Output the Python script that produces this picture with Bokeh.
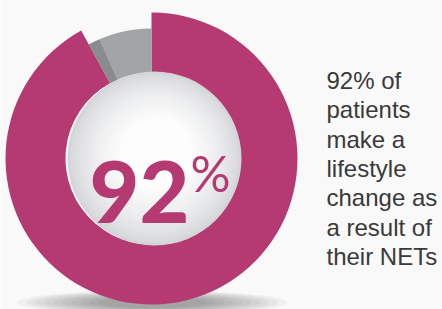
import numpy as np
from bokeh.plotting import figure
from bokeh.models import Range1d
from bokeh.core.properties import value
from bokeh.embed import file_html
from bokeh.resources import INLINE

# ---- data ----
categories = ["Lifestyle change", "No change"]
values = [92, 8]
big_label = "92"
pct_sign = "%"
side_lines = ["92% of", "patients", "make a", "lifestyle", "change as", "a result of", "their NETs"]

MAGENTA = "#B53A72"
GRAY = "#A3A4A8"
GRAY_DARK = "#8A8B8F"

W, H = 442, 309
p = figure(width=W, height=H, output_backend="svg", toolbar_location=None,
           x_range=Range1d(0, W), y_range=Range1d(0, H), match_aspect=False)
p.axis.visible = False
p.grid.visible = False
p.outline_line_color = None
p.min_border = 0
p.background_fill_color = "#f9f9f9"
p.border_fill_color = "#f9f9f9"

def sx(x):
    return x

def sy(y):
    return H - y

cx, cy = sx(151), sy(158)
R_out, R_gray, R_in = 146, 130, 86

# shadow under donut
for k in range(10):
    p.ellipse(x=sx(152), y=sy(302), width=270 - k * 18, height=24 - k * 1.4,
              fill_color="black", fill_alpha=0.04, line_color=None)

# wedge angles from data
fr = np.array(values, dtype=float) / sum(values)
start = np.pi / 2
gray_start = start
gray_end = start + 2 * np.pi * fr[1]
mag_start = gray_end
mag_end = start + 2 * np.pi

p.annular_wedge(x=cx, y=cy, inner_radius=R_in, outer_radius=R_out,
                start_angle=mag_start, end_angle=mag_end,
                fill_color=MAGENTA, line_color=None)
p.annular_wedge(x=cx, y=cy, inner_radius=R_in, outer_radius=R_gray,
                start_angle=gray_start, end_angle=gray_end,
                fill_color=GRAY, line_color=None)
p.annular_wedge(x=cx, y=cy, inner_radius=R_in, outer_radius=R_gray,
                start_angle=gray_end - 0.09, end_angle=gray_end,
                fill_color=GRAY_DARK, line_color=None)

# inner ball with radial shading
bx, by, BR = sx(154), sy(158), 87
hx, hy = sx(158), sy(150)
N = 28
c0 = np.array([0xD4, 0xD5, 0xD8])
c1 = np.array([0xFD, 0xFD, 0xFD])
for k in range(N):
    t = k / N
    r = BR * (1 - t) ** 0.9
    c = c0 + (c1 - c0) * min(1.0, (t * 1.6) ** 0.7)
    col = "#%02x%02x%02x" % tuple(int(v) for v in c)
    p.circle(x=bx + (hx - bx) * t, y=by + (hy - by) * t, radius=r,
             fill_color=col, line_color=None)

# big label
p.text(x=[sx(89)], y=[sy(191)], text=[big_label], text_font=value("Lato Black"),
       text_font_style="bold", text_font_size="86px", text_color=MAGENTA,
       text_align="left", text_baseline="alphabetic")
p.text(x=[sx(190)], y=[sy(172)], text=[pct_sign], text_font=value("Lato"),
       text_font_style="normal", text_font_size="50px", text_color=MAGENTA,
       text_align="left", text_baseline="alphabetic")

# side text
ys = [sy(80 + i * 29.3) for i in range(len(side_lines))]
p.text(x=[sx(326)] * len(side_lines), y=ys, text=side_lines,
       text_font=value("Liberation Sans"), text_font_size="24px",
       text_color="#3a3a3a", text_align="left", text_baseline="alphabetic")

open("out.html", "w").write(file_html(p, INLINE))
